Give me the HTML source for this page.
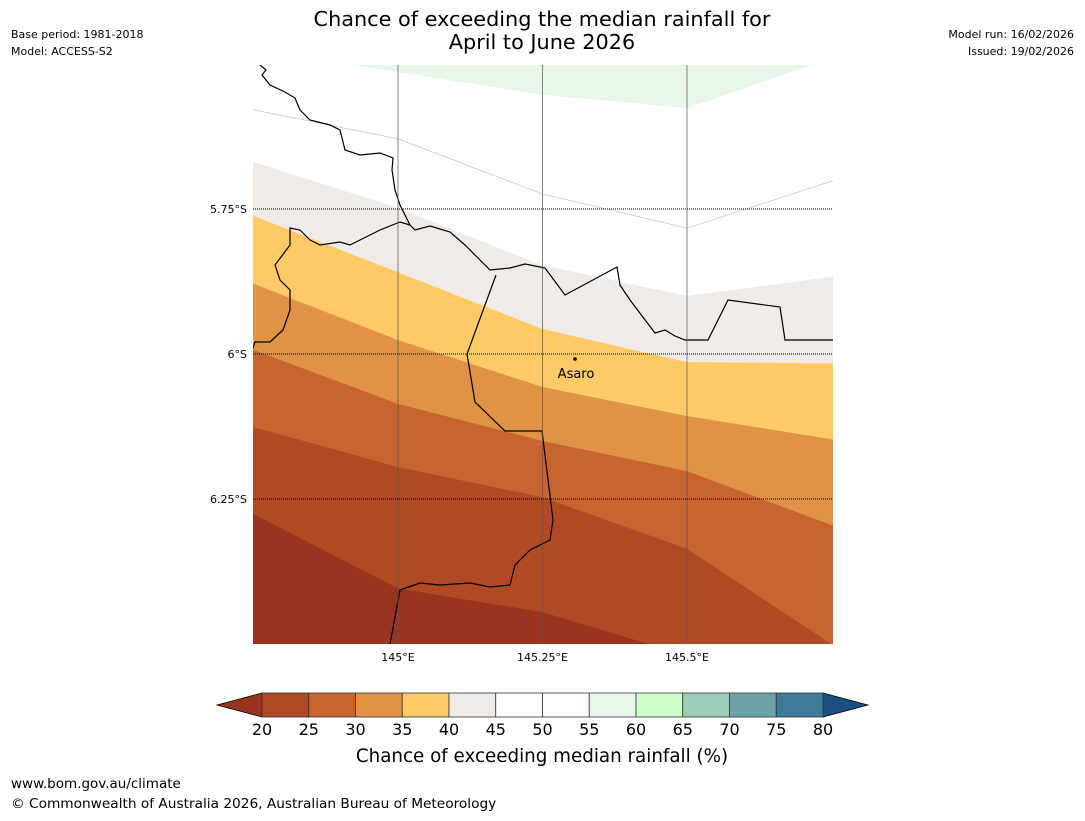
<!DOCTYPE html>
<html><head><meta charset="utf-8"><style>
body{margin:0;width:1085px;height:816px;background:#fff;font-family:"Liberation Sans","DejaVu Sans",sans-serif;overflow:hidden}
</style></head><body>
<svg id="svg" width="1085" height="816" xmlns="http://www.w3.org/2000/svg">
<text x="542" y="26" text-anchor="middle" font-size="20.8" font-family="DejaVu Sans, sans-serif">Chance of exceeding the median rainfall for</text>
<text x="542" y="49" text-anchor="middle" font-size="20.8" font-family="DejaVu Sans, sans-serif">April to June 2026</text>
<text x="11" y="38" font-size="11" font-family="DejaVu Sans, sans-serif">Base period: 1981-2018</text>
<text x="11" y="55" font-size="11" font-family="DejaVu Sans, sans-serif">Model: ACCESS-S2</text>
<text x="1074" y="38" text-anchor="end" font-size="11" font-family="DejaVu Sans, sans-serif">Model run: 16/02/2026</text>
<text x="1074" y="55" text-anchor="end" font-size="11" font-family="DejaVu Sans, sans-serif">Issued: 19/02/2026</text>
<defs><clipPath id="mapclip"><rect x="253" y="65" width="580" height="579"/></clipPath></defs>
<g id="map" clip-path="url(#mapclip)"></g>
<g id="over"></g>
<text x="11" y="788" font-size="13.5" font-family="DejaVu Sans, sans-serif">www.bom.gov.au/climate</text>
<text x="11" y="808" font-size="13.7" font-family="DejaVu Sans, sans-serif">© Commonwealth of Australia 2026, Australian Bureau of Meteorology</text>
</svg>
<script>
const NS="http://www.w3.org/2000/svg";
// data
const lons=[144.75,145.0,145.25,145.5,145.75];
const thresholds=[20,25,30,35,40,45,50,55];
const b20=[6.276,6.404,6.445,6.52,6.6];
const b25=[6.126,6.195,6.247,6.336,6.5];
const b30=[5.993,6.086,6.15,6.202,6.295];
const b35=[5.879,5.976,6.057,6.107,6.147];
const b40=[5.762,5.859,5.957,6.014,6.016];
const b45=[5.669,5.748,5.847,5.9,5.867];
const b50=[5.579,5.629,5.724,5.783,5.702];
const b55=[5.474,5.514,5.553,5.576,5.49];
const bounds=[b20,b25,b30,b35,b40,b45,b50,b55];
const colors=["#99341f","#b04a24","#c86430","#e09246","#fdca67","#f0ebe6","#ffffff","#ffffff","#e8f5e9"];
const cbLabels=["20","25","30","35","40","45","50","55","60","65","70","75","80"];
const cbColors=["#b04a24","#c86430","#e09246","#fdca67","#f0ebe6","#ffffff","#ffffff","#e8f5e9","#ccffcc","#9ccfb9","#6ba3a8","#3f7a9a"];
const xTicks=[145.0,145.25,145.5];const xTickLabels=["145°E","145.25°E","145.5°E"];
const yTicks=[5.75,6.0,6.25];const yTickLabels=["5.75°S","6°S","6.25°S"];

const X=lon=>398+(lon-145)*578;
const Y=lat=>354+(lat-6)*580;
const map=document.getElementById('map'),over=document.getElementById('over');
function mk(p,tag,at){const e=document.createElementNS(NS,tag);for(const k in at)e.setAttribute(k,at[k]);p.appendChild(e);return e;}
let bg=mk(map,'rect',{x:253,y:65,width:580,height:579,fill:colors[0]});


for(let i=0;i<bounds.length;i++){
  const b=bounds[i];
  const n=lons.length-1;
  let d="M245,"+Y(b[0])+" L"+X(lons[0])+","+(Y(b[0]));
  for(let j=1;j<lons.length;j++)d+=" L"+X(lons[j])+","+Y(b[j]);
  d+=" L845,"+Y(b[n])+" L845,0 L245,0 Z";
  const p=mk(map,'path',{d:d,fill:colors[i+1],stroke:i==6?"#bbb":"none","stroke-width":0.6});
  
  
}
const coast="M260,65 L266,70 L262,75 L270,85 L285,92 L295,98 L300,110 L310,120 L330,125 L340,130 L345,150 L360,155 L380,153 L393,158 L392,170 L395,190 L400,205 L405,215 L410,225 L415,230 L430,226 L450,232 L465,245 L480,260 L490,270 L510,268 L525,264 L545,268 L565,295 L617,267 L620,285 L630,300 L655,333 L665,330 L675,336 L685,340 L708,340 L728,300 L780,307 L785,340 L833,340";
const c1=mk(map,'path',{d:coast,fill:"none",stroke:"#000","stroke-width":1.2});


const c2=mk(map,'path',{d:"M253,348 L255,342 L270,342 L283,330 L290,310 L290,290 L280,280 L275,265 L290,245 L290,228 L300,230 L310,240 L320,245 L340,242 L350,245 L360,240 L380,230 L400,222 L410,225",fill:"none",stroke:"#000","stroke-width":1.2});


const c3=mk(map,'path',{d:"M496,275 L467,354 L475,402 L505,431 L542,431 L553,520 L550,540 L530,550 L515,565 L510,585 L490,587 L470,583 L440,585 L420,583 L400,590 L390,644",fill:"none",stroke:"#000","stroke-width":1.2});


xTicks.forEach((v,i)=>{
  const l=mk(map,'line',{x1:X(v),x2:X(v),y1:65,y2:644,stroke:"#555","stroke-width":1,opacity:0.7});
  
  
  const t=mk(over,'text',{x:X(v),y:661,"text-anchor":"middle","font-size":11,"font-family":"DejaVu Sans, sans-serif"});t.textContent=xTickLabels[i];
  
  
});
yTicks.forEach((v,i)=>{
  const l=mk(map,'line',{x1:253,x2:833,y1:Y(v),y2:Y(v),stroke:"#000","stroke-width":1,"stroke-dasharray":"1,1"});
  
  
  const t=mk(over,'text',{x:247,y:Y(v)+4,"text-anchor":"end","font-size":11,"font-family":"DejaVu Sans, sans-serif"});t.textContent=yTickLabels[i];
  
  
});
const dot=mk(over,'circle',{cx:575,cy:359,r:1.8,fill:"#000"});


const al=mk(over,'text',{x:576,y:378,"text-anchor":"middle","font-size":13,"font-family":"DejaVu Sans, sans-serif"});al.textContent="Asaro";


const cx0=262,cw=(823-262)/12,cy=693,ch=24;
const lt=mk(over,'polygon',{points:`217,705 ${cx0},${cy} ${cx0},${cy+ch}`,fill:"#99341f",stroke:"#000","stroke-width":0.8});


const rt=mk(over,'polygon',{points:`868,705 823,${cy} 823,${cy+ch}`,fill:"#1c4f80",stroke:"#000","stroke-width":0.8});


cbColors.forEach((c,i)=>{
  const r=mk(over,'rect',{x:cx0+i*cw,y:cy,width:cw,height:ch,fill:c,stroke:"#333","stroke-width":0.8});
  
  
});
cbLabels.forEach((s,i)=>{
  const t=mk(over,'text',{x:cx0+i*cw,y:735,"text-anchor":"middle","font-size":16,"font-family":"DejaVu Sans, sans-serif"});t.textContent=s;
  
  
});
const ct=mk(over,'text',{x:542,y:762,"text-anchor":"middle","font-size":18.3,"font-family":"DejaVu Sans, sans-serif"});ct.textContent="Chance of exceeding median rainfall (%)";


</script>
</body></html>
